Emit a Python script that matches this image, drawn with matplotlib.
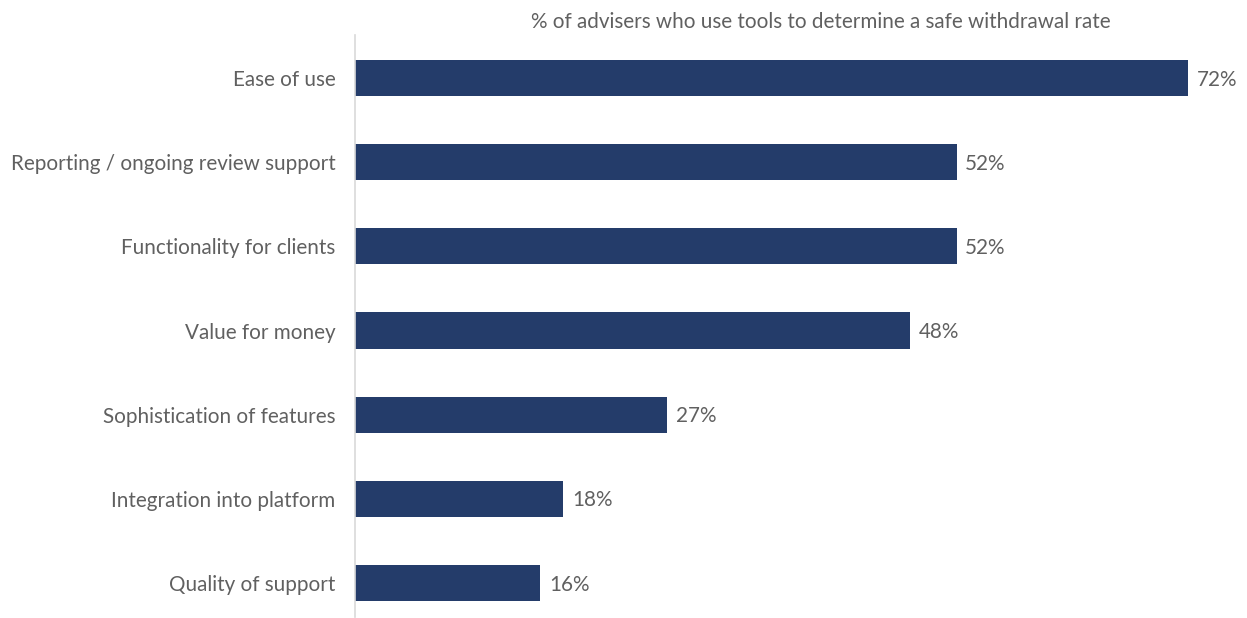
import matplotlib.pyplot as plt

plt.rcParams['font.family'] = ['Lato', 'DejaVu Sans']

# Share of advisers citing each factor
factors = ['Ease of use', 'Reporting / ongoing review support', 'Functionality for clients',
           'Value for money', 'Sophistication of features', 'Integration into platform',
           'Quality of support']
shares = [72, 52, 52, 48, 27, 18, 16]
title = '% of advisers who use tools to determine a safe withdrawal rate'

bar_color = '#243c6a'
text_color = '#606060'
fs = 14.9

fig = plt.figure(figsize=(12.47, 6.18), dpi=100)
ax = fig.add_axes([355 / 1247, 1 / 618, 892 / 1247, 582 / 618])

pos = list(range(len(factors)))
ax.barh(pos, shares, height=0.43, color=bar_color)

for y, v in zip(pos, shares):
    ax.text(v + 0.75, y + 0.02, f'{v}%', va='center', ha='left', fontsize=fs, color=text_color)

ax.set_xlim(0, 892 / 11.57)
ax.set_ylim(6.405, -0.512)
ax.set_yticks(pos)
ax.set_yticklabels(factors, fontsize=fs, color=text_color)
ax.tick_params(axis='y', length=0, pad=14)
ax.set_xticks([])

for side in ['top', 'right', 'bottom']:
    ax.spines[side].set_visible(False)
ax.spines['left'].set_color('#d9d9d9')
ax.spines['left'].set_linewidth(1.2)

fig.text(821 / 1247, 1 - 22 / 618, title, ha='center', va='center', fontsize=fs, color=text_color)

fig.savefig('out.png', dpi=100)
